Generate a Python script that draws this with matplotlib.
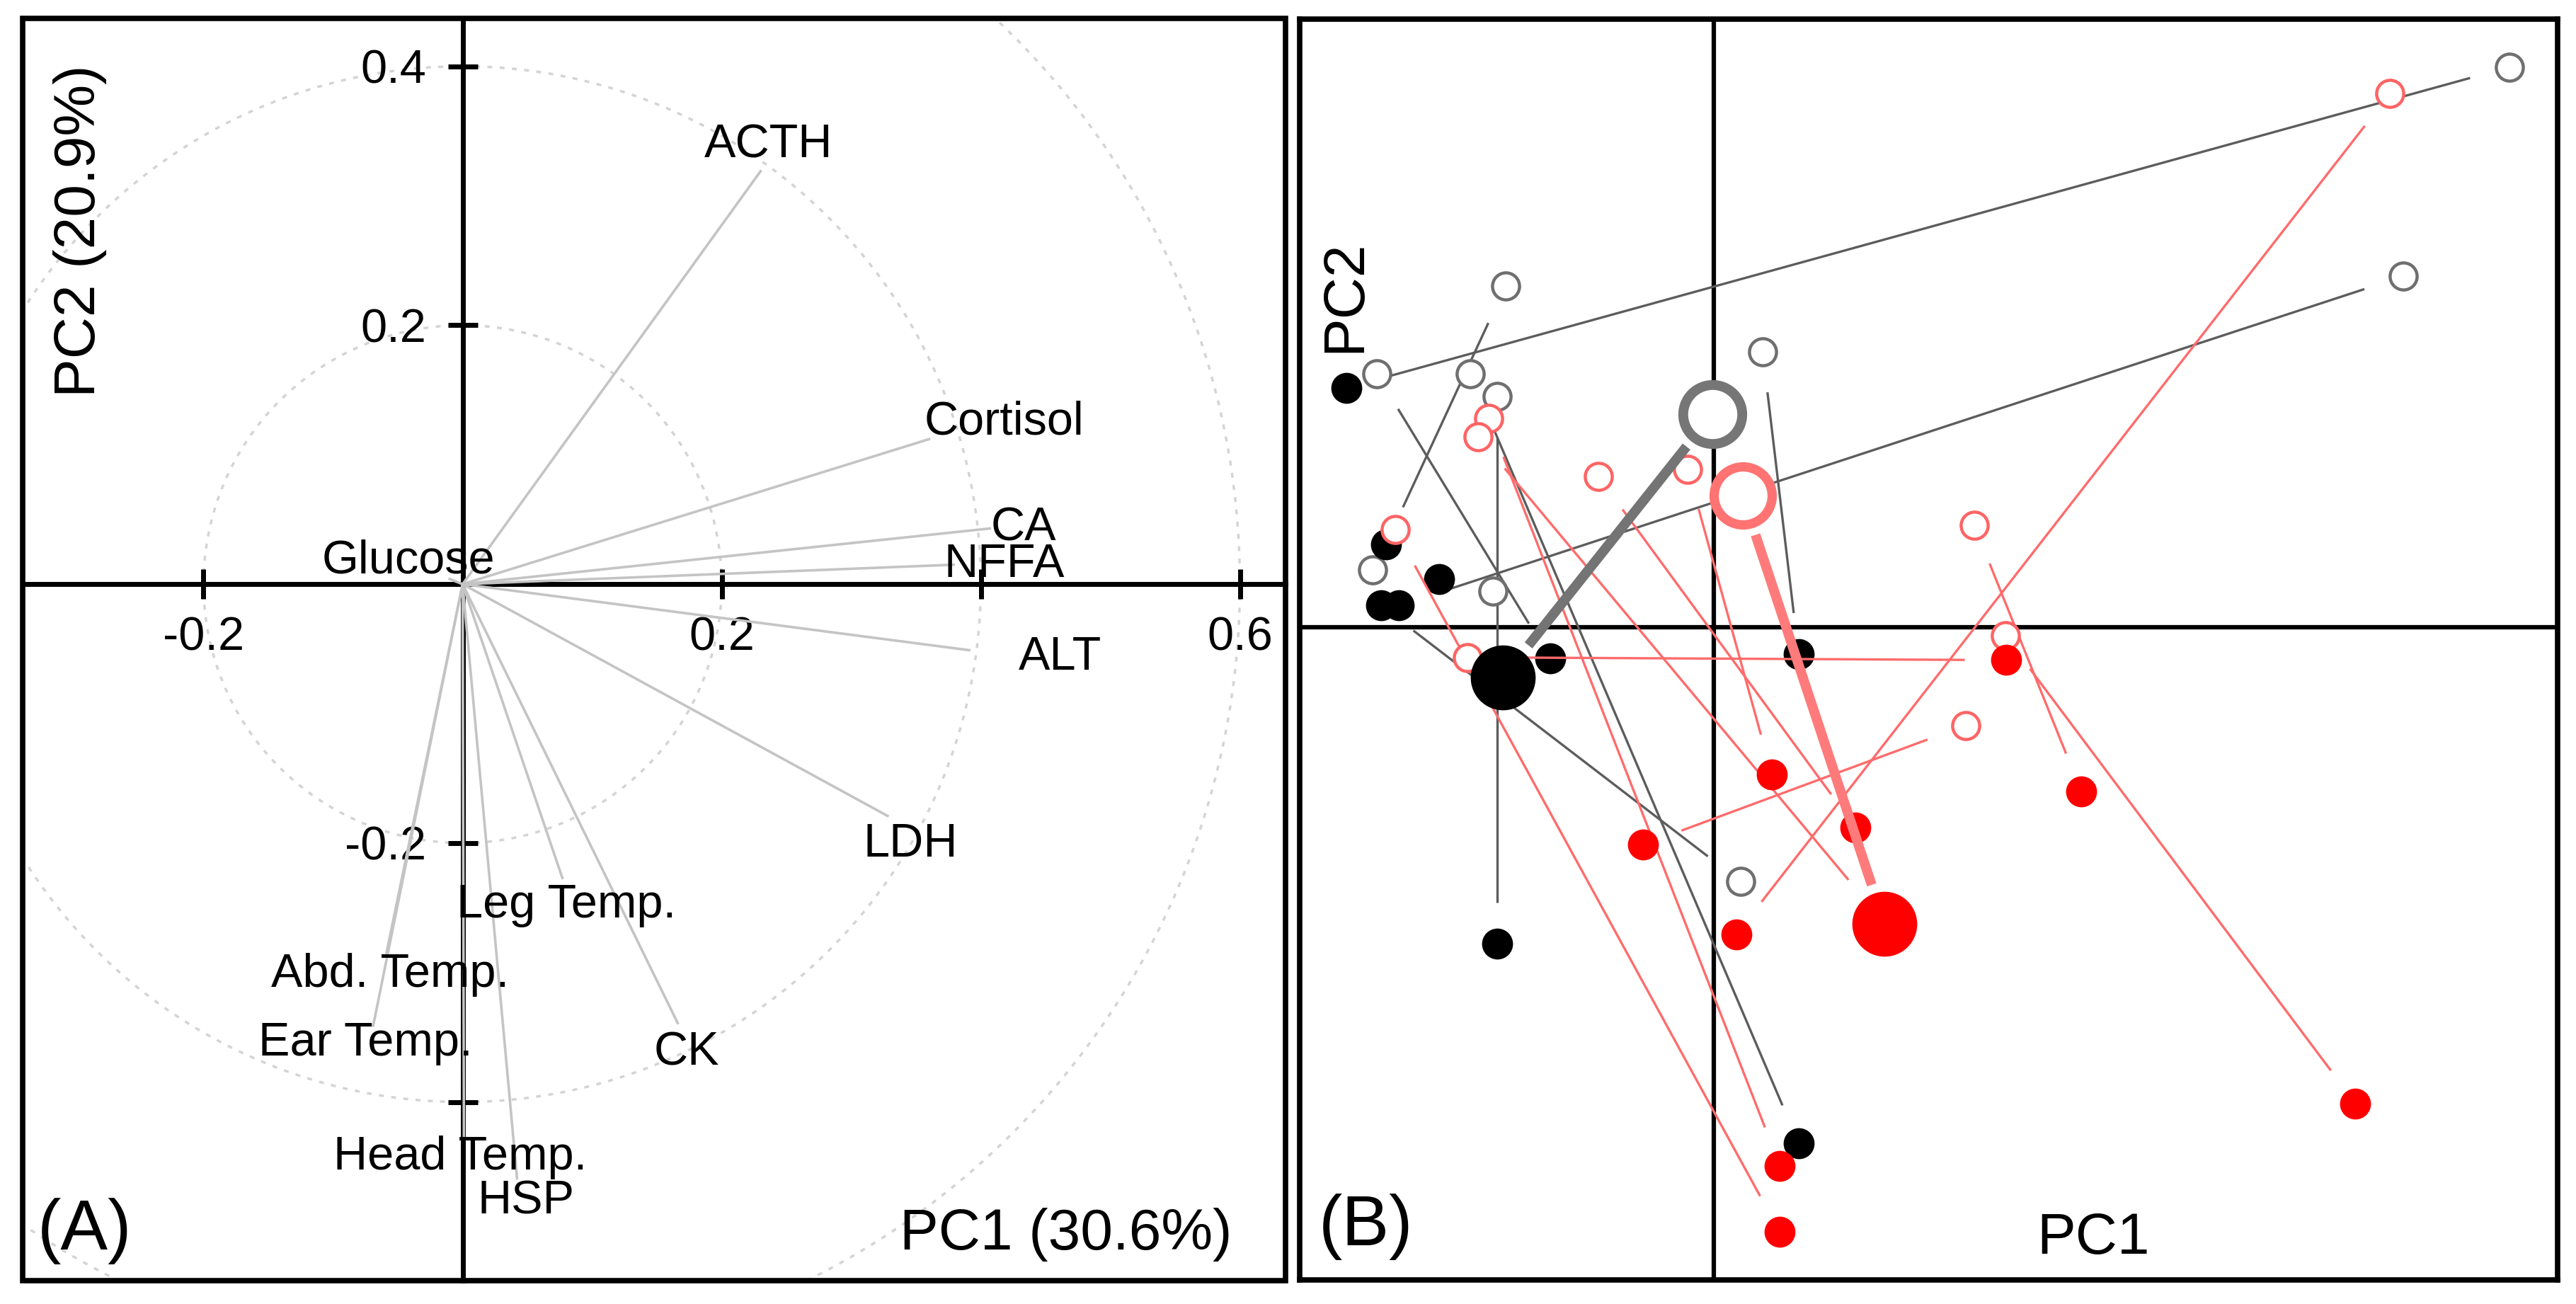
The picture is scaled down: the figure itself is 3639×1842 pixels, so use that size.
import matplotlib
matplotlib.use("Agg")
import numpy as np
import matplotlib.pyplot as plt
from matplotlib.patches import Circle, Rectangle

plt.rcParams['font.family'] = ['Liberation Sans', 'DejaVu Sans']

# ---------------- (A) variable loadings ----------------
var_names = ["ACTH", "Cortisol", "CA", "NFFA", "Glucose", "ALT", "LDH",
             "Leg Temp.", "CK", "Abd. Temp.", "Ear Temp.", "Head Temp.", "HSP"]
load_pc1 = [0.230, 0.360, 0.407, 0.379, -0.010, 0.391, 0.328,
            0.077, 0.166, -0.059, -0.069, 0.001, 0.042]
load_pc2 = [0.319, 0.112, 0.043, 0.015, 0.004, -0.051, -0.179,
            -0.227, -0.339, -0.286, -0.341, -0.427, -0.459]
# where the names sit
lab_pc1 = [0.236, 0.418, 0.433, 0.418, -0.042, 0.461, 0.346,
           0.080, 0.173, -0.056, -0.075, -0.002, 0.049]
lab_pc2 = [0.339, 0.125, 0.043, 0.015, 0.018, -0.057, -0.201,
           -0.248, -0.362, -0.302, -0.355, -0.443, -0.477]

a_xticks = [-0.2, 0.2, 0.4, 0.6]
a_xticklabels = ["-0.2", "0.2", "", "0.6"]
a_yticks = [-0.4, -0.2, 0.2, 0.4]
a_yticklabels = ["", "-0.2", "0.2", "0.4"]
circle_radii = [0.2, 0.4, 0.6]

# ---------------- (B) individual scores ----------------
# group 1 (grey / black): open = first sampling, filled = second sampling
g1_open_x = [4.846, 4.199, -1.268, -2.053, -1.318, -1.484, 0.297, 0.162, -2.077, -1.347]
g1_open_y = [3.411, 2.137, 2.080, 1.543, 1.407, 1.543, 1.679, -1.547, 0.348, 0.220]
g1_fill_x = [-2.238, -1.917, -1.998, -0.996, -1.318, 0.516, 0.516, -2.028, -1.673]
g1_fill_y = [1.457, 0.132, 0.504, -0.191, -1.927, -3.141, -0.162, 0.132, 0.293]
# group 2 (red)
g2_open_x = [4.117, 1.586, 1.775, -1.499, -1.372, -1.434, -0.704, -0.159, -1.941, 1.535]
g2_open_y = [3.250, 0.620, -0.053, -0.183, 1.271, 1.159, 0.919, 0.961, 0.595, -0.597]
g2_fill_x = [0.137, 2.238, 3.907, 1.778, 0.402, 0.980, 0.862, 0.353, 0.402, -0.432]
g2_fill_y = [-1.869, -1.001, -2.899, -0.200, -3.278, -1.730, -1.219, -0.895, -3.683, -1.325]
# group means
g1_mean_open = (-0.011, 1.296)
g1_mean_fill = (-1.284, -0.306)
g2_mean_open = (0.175, 0.800)
g2_mean_fill = (1.040, -1.806)

GAP = 0.25  # segments stop short of the points


def short_seg(ax, x0, y0, x1, y1, **kw):
    d = np.hypot(x1 - x0, y1 - y0)
    if d <= 2 * GAP:
        return
    ux, uy = (x1 - x0) / d, (y1 - y0) / d
    ax.plot([x0 + GAP * ux, x1 - GAP * ux], [y0 + GAP * uy, y1 - GAP * uy],
            solid_capstyle='butt', **kw)


fig = plt.figure(figsize=(36.39, 18.42), dpi=100)
fig.patch.set_facecolor('white')

# ======== panel A ========
axA = fig.add_axes([0.00879, 0.01792, 0.49025, 0.96796])
axA.set_xlim(-0.3396, 0.6352)
axA.set_ylim(-0.538, 0.437)

for r in circle_radii:
    axA.add_patch(Circle((0, 0), r, fill=False, ec='#d4d4d4', lw=2.5,
                         ls=(0, (2, 3)), zorder=1))

for sp in ['top', 'right']:
    axA.spines[sp].set_visible(False)
axA.spines['left'].set_position(('data', 0))
axA.spines['bottom'].set_position(('data', 0))
for sp in ['left', 'bottom']:
    axA.spines[sp].set_linewidth(5)
    axA.spines[sp].set_zorder(2)
axA.add_patch(Rectangle((0, 0), 1, 1, transform=axA.transAxes, fill=False,
                        lw=5.5, ec='black', clip_on=False, zorder=6))

axA.set_xticks(a_xticks)
axA.set_xticklabels(a_xticklabels)
axA.set_yticks(a_yticks)
axA.set_yticklabels(a_yticklabels)
axA.tick_params(axis='x', direction='inout', length=30, width=5,
                labelsize=48, pad=18)
axA.tick_params(axis='y', direction='inout', length=30, width=5,
                labelsize=48, pad=22)

for i, name in enumerate(var_names):
    axA.plot([0, load_pc1[i]], [0, load_pc2[i]], color='#c4c4c4', lw=2.6,
             zorder=3)
    axA.text(lab_pc1[i], lab_pc2[i], name, fontsize=48, ha='center',
             va='center', zorder=5)

axA.text(0.0454, 0.8317, "PC2 (20.9%)", transform=axA.transAxes,
         rotation=90, fontsize=59, ha='center', va='center')
axA.text(0.9574, 0.0365, "PC1 (30.6%)", transform=axA.transAxes,
         fontsize=59, ha='right', va='center')
axA.text(0.0488, 0.0393, "(A)", transform=axA.transAxes,
         fontsize=72, ha='center', va='center')

# ======== panel B ========
axB = fig.add_axes([0.50453, 0.01846, 0.48833, 0.96688])
axB.set_xlim(-2.522, 5.138)
axB.set_ylim(-3.974, 3.703)
axB.set_xticks([])
axB.set_yticks([])
for sp in axB.spines.values():
    sp.set_linewidth(5.5)
axB.axhline(0, color='black', lw=4.5, zorder=1)
axB.axvline(0, color='black', lw=4.5, zorder=1)

# group 1: lines then markers
for x0, y0, x1, y1 in zip(g1_open_x, g1_open_y, g1_fill_x, g1_fill_y):
    short_seg(axB, x0, y0, x1, y1, color='#5c5c5c', lw=2.4, zorder=2)
axB.plot(g1_open_x, g1_open_y, 'o', ls='none', ms=27.5, mfc='white',
         mec='#6f6f6f', mew=3.2, zorder=3)
axB.plot(g1_fill_x, g1_fill_y, 'o', ls='none', ms=31.5, mfc='black',
         mec='black', mew=0, zorder=3)

# group 2: lines then markers
for x0, y0, x1, y1 in zip(g2_open_x, g2_open_y, g2_fill_x, g2_fill_y):
    short_seg(axB, x0, y0, x1, y1, color='#ff6b6b', lw=2.4, zorder=4)
axB.plot(g2_open_x, g2_open_y, 'o', ls='none', ms=27.5, mfc='white',
         mec='#ff6464', mew=3.2, zorder=5)
axB.plot(g2_fill_x, g2_fill_y, 'o', ls='none', ms=31.5, mfc='#ff0000',
         mec='#ff0000', mew=0, zorder=5)

# group means
short_seg(axB, g1_mean_fill[0], g1_mean_fill[1], g1_mean_open[0],
          g1_mean_open[1], color='#747474', lw=10, zorder=6)
axB.plot(*g1_mean_open, 'o', ms=60, mfc='white', mec='#767676', mew=10,
         zorder=7)
axB.plot(*g1_mean_fill, 'o', ms=66, mfc='black', mec='black', mew=0,
         zorder=7)
short_seg(axB, g2_mean_open[0], g2_mean_open[1], g2_mean_fill[0],
          g2_mean_fill[1], color='#ff7b7b', lw=10, zorder=6)
axB.plot(*g2_mean_open, 'o', ms=59, mfc='white', mec='#ff7373', mew=9.5,
         zorder=7)
axB.plot(*g2_mean_fill, 'o', ms=66, mfc='#ff0000', mec='#ff0000', mew=0,
         zorder=7)

axB.text(0.036, 0.7805, "PC2", transform=axB.transAxes, rotation=90,
         fontsize=59, ha='center', va='center')
axB.text(0.6308, 0.0326, "PC1", transform=axB.transAxes,
         fontsize=59, ha='center', va='center')
axB.text(0.0529, 0.0421, "(B)", transform=axB.transAxes,
         fontsize=72, ha='center', va='center')

fig.savefig("out.png", dpi=100, facecolor='white')
